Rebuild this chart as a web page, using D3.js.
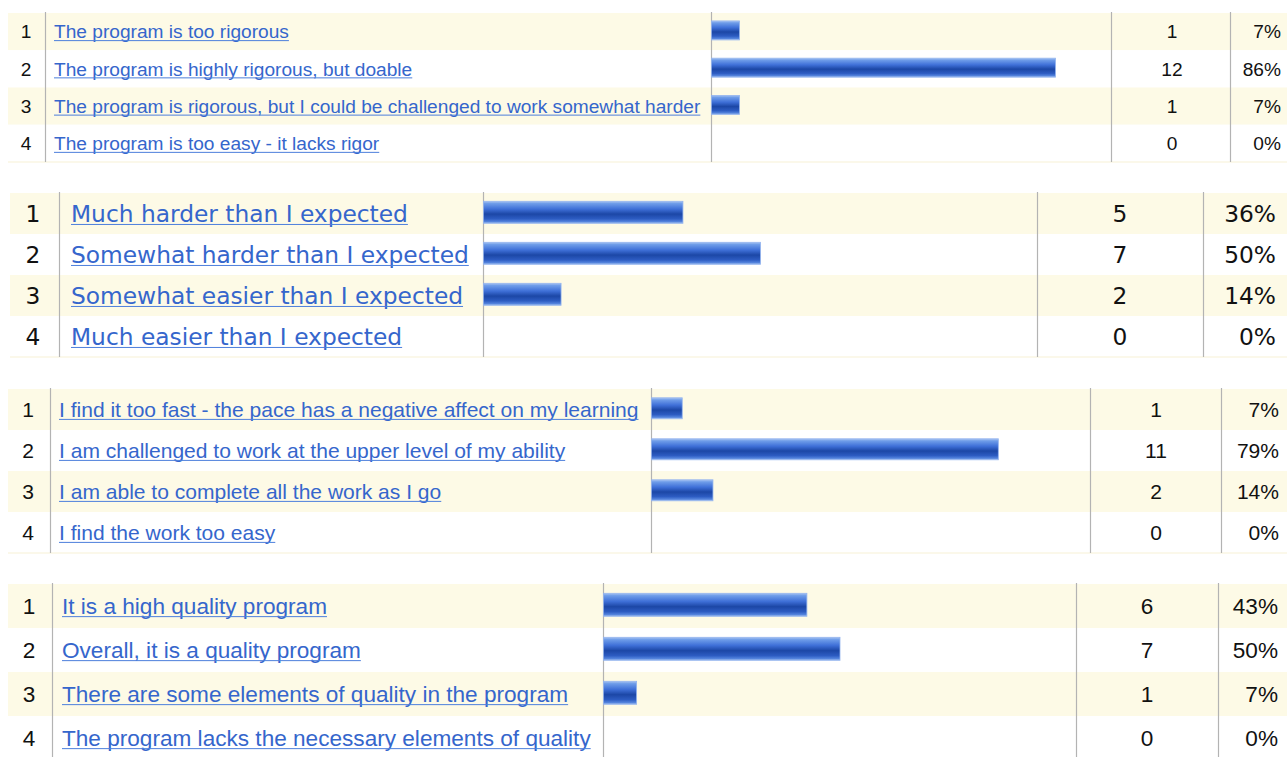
<!DOCTYPE html>
<html>
<head>
<meta charset="utf-8">
<script src="https://cdn.jsdelivr.net/npm/d3@7"></script>
<style>
  html, body { margin: 0; padding: 0; background: #fff; overflow: hidden; }
</style>
</head>
<body>
<svg id="viz"></svg>
<script>
// --- Data: four survey questions, 14 respondents each ---
const rigorLabels = [
  "The program is too rigorous",
  "The program is highly rigorous, but doable",
  "The program is rigorous, but I could be challenged to work somewhat harder",
  "The program is too easy - it lacks rigor"
];
const rigorCounts = [1, 12, 1, 0];
const rigorPct = [7, 86, 7, 0];

const expectLabels = [
  "Much harder than I expected",
  "Somewhat harder than I expected",
  "Somewhat easier than I expected",
  "Much easier than I expected"
];
const expectCounts = [5, 7, 2, 0];
const expectPct = [36, 50, 14, 0];

const paceLabels = [
  "I find it too fast - the pace has a negative affect on my learning",
  "I am challenged to work at the upper level of my ability",
  "I am able to complete all the work as I go",
  "I find the work too easy"
];
const paceCounts = [1, 11, 2, 0];
const pacePct = [7, 79, 14, 0];

const qualityLabels = [
  "It is a high quality program",
  "Overall, it is a quality program",
  "There are some elements of quality in the program",
  "The program lacks the necessary elements of quality"
];
const qualityCounts = [6, 7, 1, 0];
const qualityPct = [43, 50, 7, 0];

const width = 1287;
const height = 757;

const svg = d3.select("#viz")
  .attr("width", width)
  .attr("height", height);

// --- Bar gradient (glossy blue) ---
const defs = svg.append("defs");
const grad = defs.append("linearGradient")
  .attr("id", "barGrad")
  .attr("x1", 0).attr("y1", 0).attr("x2", 0).attr("y2", 1);
[
  [0, "#a9c4f2"], [0.1, "#6f9de9"], [0.35, "#3f70d8"],
  [0.58, "#1c47a6"], [0.8, "#2d5cc2"], [0.93, "#5585de"], [1, "#a8c2ef"]
].forEach(s => grad.append("stop").attr("offset", s[0]).attr("stop-color", s[1]));

// --- Layout of each table ---
const panels = [
  { labels: rigorLabels, counts: rigorCounts, pct: rigorPct,
    top: 13, rowH: 37.25, x0: 8, numX: 26, sep1: 45, labelX: 54,
    barX: 711, countSep: 1111, pctSep: 1230, countX: 1172, pctX: 1281,
    barH: 19, font: "'Liberation Sans', Arial, sans-serif", fitWidth: 647, fitIndex: 2 },
  { labels: expectLabels, counts: expectCounts, pct: expectPct,
    top: 193, rowH: 41, x0: 10, numX: 33, sep1: 59, labelX: 71,
    barX: 483, countSep: 1037, pctSep: 1203, countX: 1120, pctX: 1276,
    barH: 22, font: "'DejaVu Sans', Verdana, sans-serif", fitWidth: 398, fitIndex: 1 },
  { labels: paceLabels, counts: paceCounts, pct: pacePct,
    top: 389, rowH: 41, x0: 8, numX: 28, sep1: 50, labelX: 59,
    barX: 651, countSep: 1090, pctSep: 1221, countX: 1156, pctX: 1279,
    barH: 21, font: "'Liberation Sans', Arial, sans-serif", fitWidth: 580, fitIndex: 0 },
  { labels: qualityLabels, counts: qualityCounts, pct: qualityPct,
    top: 584, rowH: 44, x0: 8, numX: 29, sep1: 52, labelX: 62,
    barX: 603, countSep: 1076, pctSep: 1218, countX: 1147, pctX: 1278,
    barH: 23, font: "'Liberation Sans', Arial, sans-serif", fitWidth: 529, fitIndex: 3 }
];

// measure text to pick a font size that matches the original label widths
function fitFontSize(text, font, target) {
  const t = svg.append("text")
    .attr("font-family", font)
    .attr("font-size", 20)
    .text(text);
  const w = t.node().getComputedTextLength();
  t.remove();
  return 20 * target / w;
}

panels.forEach(p => {
  const n = p.labels.length;
  const fs = fitFontSize(p.labels[p.fitIndex], p.font, p.fitWidth);
  const rows = d3.range(n);

  const y = d3.scaleBand()
    .domain(rows)
    .range([p.top, p.top + p.rowH * n])
    .paddingInner(0);

  const x = d3.scaleLinear()
    .domain([0, 100])
    .range([p.barX, p.countSep]);

  const g = svg.append("g");

  // --- Row backgrounds (alternating cream / white) ---
  g.selectAll("rect.row")
    .data(rows)
    .join("rect")
    .attr("class", "row")
    .attr("x", p.x0)
    .attr("y", i => y(i))
    .attr("width", width - p.x0)
    .attr("height", y.bandwidth())
    .attr("fill", i => i % 2 === 0 ? "#fdfae6" : "#ffffff");

  // faint line under the table
  g.append("rect")
    .attr("x", p.x0)
    .attr("y", p.top + p.rowH * n - 1)
    .attr("width", width - p.x0)
    .attr("height", 2)
    .attr("fill", "#fbf8ea");

  // --- Column separators ---
  [p.sep1, p.barX, p.countSep, p.pctSep].forEach(sx => {
    g.append("line")
      .attr("x1", sx + 0.5).attr("x2", sx + 0.5)
      .attr("y1", p.top - 1)
      .attr("y2", p.top + p.rowH * n)
      .attr("stroke", "#b3b3b3")
      .attr("stroke-width", 1.2);
  });

  // --- Bars ---
  g.selectAll("rect.bar")
    .data(rows.filter(i => p.pct[i] > 0))
    .join("rect")
    .attr("class", "bar")
    .attr("x", x(0) + 0.5)
    .attr("y", i => y(i) + (y.bandwidth() - p.barH) / 2 - 1.2)
    .attr("width", i => x(p.pct[i]) - x(0))
    .attr("height", p.barH)
    .attr("fill", "url(#barGrad)")
    .attr("stroke", "#93b4ee")
    .attr("stroke-width", 0.8);

  const mid = i => y(i) + y.bandwidth() / 2;

  // --- Row numbers ---
  g.selectAll("text.num")
    .data(rows)
    .join("text")
    .attr("class", "num")
    .attr("x", p.numX)
    .attr("y", mid)
    .attr("dy", "0.35em")
    .attr("text-anchor", "middle")
    .attr("font-family", p.font)
    .attr("font-size", fs)
    .attr("fill", "#111")
    .text(i => i + 1);

  // --- Answer labels (link style) ---
  const labels = g.selectAll("text.label")
    .data(rows)
    .join("text")
    .attr("class", "label")
    .attr("x", p.labelX)
    .attr("y", mid)
    .attr("dy", "0.35em")
    .attr("font-family", p.font)
    .attr("font-size", fs)
    .attr("fill", "#3566cc")
    .text(i => p.labels[i]);

  labels.each(function (i) {
    const w = this.getComputedTextLength();
    g.append("line")
      .attr("x1", p.labelX)
      .attr("x2", p.labelX + w)
      .attr("y1", mid(i) + fs * 0.35 + fs * 0.12)
      .attr("y2", mid(i) + fs * 0.35 + fs * 0.12)
      .attr("stroke", "#4d7fdc")
      .attr("stroke-width", 1);
  });

  // --- Counts ---
  g.selectAll("text.count")
    .data(rows)
    .join("text")
    .attr("class", "count")
    .attr("x", p.countX)
    .attr("y", mid)
    .attr("dy", "0.35em")
    .attr("text-anchor", "middle")
    .attr("font-family", p.font)
    .attr("font-size", fs)
    .attr("fill", "#111")
    .text(i => p.counts[i]);

  // --- Percentages ---
  g.selectAll("text.pct")
    .data(rows)
    .join("text")
    .attr("class", "pct")
    .attr("x", p.pctX)
    .attr("y", mid)
    .attr("dy", "0.35em")
    .attr("text-anchor", "end")
    .attr("font-family", p.font)
    .attr("font-size", fs)
    .attr("fill", "#111")
    .text(i => p.pct[i] + "%");
});
</script>
</body>
</html>
